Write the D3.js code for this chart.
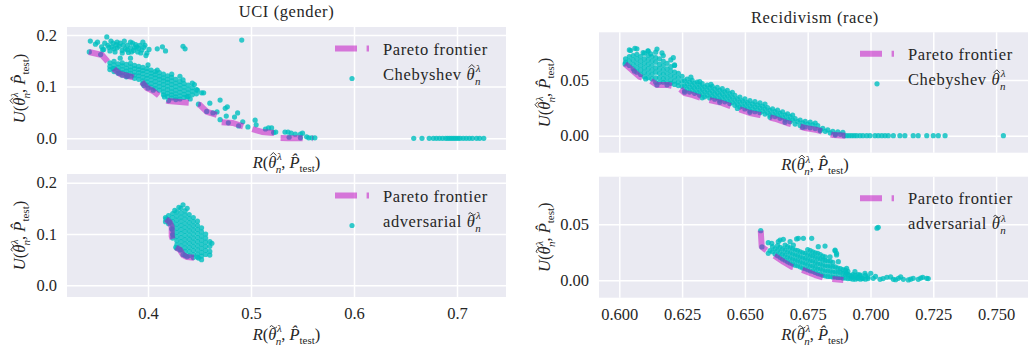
<!DOCTYPE html>
<html>
<head>
<meta charset="utf-8">
<script src="https://cdn.jsdelivr.net/npm/d3@7"></script>
<style>
  body { margin: 0; background: #fff; }
</style>
</head>
<body>
<svg id="chart" width="1028" height="348"></svg>
<script>
// ---- data ----
const titles = ["UCI (gender)", "Recidivism (race)"];
const uciXTicks = [0.4, 0.5, 0.6, 0.7];
const uciYTicks = [0.0, 0.1, 0.2];
const recidXTicks = [0.600, 0.625, 0.650, 0.675, 0.700, 0.725, 0.750];
const recidYTicks = [0.00, 0.05];

const uciChebyshevFrontier = [[0.3427,0.1669],[0.3553,0.1611],[0.3612,0.1476],[0.3680,0.1321],[0.3728,0.1244],[0.3845,0.1186],[0.3922,0.1128],[0.3990,0.0973],[0.4049,0.0915],[0.4136,0.0779],[0.4194,0.0721],[0.4311,0.0702],[0.4427,0.0683],[0.4505,0.0644],[0.4573,0.0509],[0.4670,0.0451],[0.4699,0.0315],[0.4825,0.0296],[0.4942,0.0219],[0.5107,0.0122],[0.5233,0.0103],[0.5262,0.0006],[0.5359,0.0],[0.5600,0.0]];

const uciChebyshev = [
  [0.344,0.188],[0.349,0.182],[0.351,0.186],[0.360,0.196],[0.355,0.177],[0.356,0.171],[0.361,0.180],[0.366,0.184],
  [0.370,0.175],[0.375,0.165],[0.373,0.184],[0.380,0.180],[0.383,0.175],[0.385,0.184],[0.389,0.177],[0.392,0.180],
  [0.395,0.186],[0.397,0.180],[0.399,0.165],[0.394,0.171],[0.390,0.167],[0.384,0.167],[0.380,0.171],[0.376,0.180],
  [0.368,0.167],[0.365,0.177],[0.358,0.184],[0.370,0.186],[0.383,0.186],[0.387,0.175],[0.357,0.172],[0.363,0.169],
  [0.372,0.178],[0.378,0.173],[0.381,0.166],[0.386,0.170],[0.391,0.174],[0.388,0.181],[0.393,0.165],[0.396,0.176],
  [0.364,0.188],[0.377,0.188],[0.369,0.181],[0.375,0.170],[0.401,0.172],[0.398,0.160],[0.362,0.176],[0.367,0.173],
  [0.409,0.173],[0.414,0.177],[0.417,0.169],[0.434,0.178],[0.436,0.173],[0.491,0.190],
  [0.363,0.146],[0.363,0.139],[0.363,0.133],
  [0.367,0.149],[0.367,0.142],[0.367,0.135],[0.367,0.129],
  [0.371,0.144],[0.371,0.137],[0.371,0.131],[0.371,0.126],
  [0.375,0.146],[0.375,0.140],[0.375,0.133],[0.375,0.127],[0.375,0.122],
  [0.379,0.143],[0.379,0.136],[0.379,0.130],[0.379,0.124],[0.379,0.119],
  [0.383,0.145],[0.383,0.138],[0.383,0.132],[0.383,0.126],[0.383,0.120],
  [0.387,0.141],[0.387,0.135],[0.387,0.128],[0.387,0.122],[0.387,0.116],
  [0.391,0.139],[0.391,0.133],[0.391,0.127],[0.391,0.121],[0.391,0.114],
  [0.395,0.137],[0.395,0.131],[0.395,0.125],[0.395,0.118],[0.395,0.111],[0.395,0.106],
  [0.399,0.135],[0.399,0.129],[0.399,0.122],[0.399,0.116],[0.399,0.109],[0.399,0.103],
  [0.403,0.132],[0.403,0.126],[0.403,0.120],[0.403,0.113],[0.403,0.106],[0.403,0.099],
  [0.407,0.129],[0.407,0.123],[0.407,0.117],[0.407,0.110],[0.407,0.103],[0.407,0.096],
  [0.411,0.127],[0.411,0.120],[0.411,0.114],[0.411,0.107],[0.411,0.100],[0.411,0.093],
  [0.415,0.124],[0.415,0.117],[0.415,0.111],[0.415,0.104],[0.415,0.097],[0.415,0.090],[0.415,0.084],
  [0.419,0.121],[0.419,0.114],[0.419,0.108],[0.419,0.101],[0.419,0.094],[0.419,0.087],[0.419,0.081],
  [0.423,0.118],[0.423,0.111],[0.423,0.104],[0.423,0.097],[0.423,0.090],[0.423,0.084],[0.423,0.078],
  [0.427,0.114],[0.427,0.107],[0.427,0.100],[0.427,0.093],[0.427,0.086],[0.427,0.080],[0.427,0.075],
  [0.431,0.110],[0.431,0.103],[0.431,0.096],[0.431,0.089],[0.431,0.082],[0.431,0.076],
  [0.435,0.106],[0.435,0.099],[0.435,0.092],[0.435,0.085],[0.435,0.079],
  [0.439,0.103],[0.439,0.095],[0.439,0.088],[0.439,0.081],
  [0.443,0.098],[0.443,0.091],[0.443,0.084],
  [0.447,0.094],[0.447,0.086],
  [0.373,0.155],[0.383,0.155],[0.400,0.142],[0.409,0.132],[0.423,0.124],[0.431,0.120],[0.434,0.113],
  [0.443,0.107],[0.445,0.104],[0.448,0.093],[0.438,0.080],[0.441,0.076],
  [0.343,0.167],[0.354,0.162],[0.366,0.135],[0.372,0.126],[0.380,0.120],[0.396,0.102],[0.400,0.097],[0.405,0.093],
  [0.416,0.080],[0.420,0.073],[0.449,0.066],[0.457,0.052],[0.470,0.036],[0.478,0.030],[0.497,0.022],[0.522,0.011],
  [0.537,0.002],[0.548,0.001],[0.556,0.001],
  [0.452,0.088],[0.454,0.088],[0.460,0.068],[0.470,0.074],[0.467,0.051],[0.463,0.049],[0.475,0.058],[0.477,0.061],
  [0.476,0.043],[0.484,0.041],[0.487,0.049],[0.492,0.032],[0.488,0.024],[0.504,0.035],[0.505,0.026],[0.514,0.018],
  [0.517,0.020],[0.520,0.020],[0.524,0.012],[0.533,0.012],[0.536,0.012],[0.539,0.010],[0.543,0.008],[0.548,0.008],
  [0.550,0.010],[0.554,0.003],[0.559,0.001],[0.562,0.001],
  [0.658,0],[0.666,0],[0.673,0],[0.677,0],[0.680,0],[0.683,0],[0.686,0],[0.689,0],[0.691,0],[0.693,0],[0.695,0],
  [0.697,0],[0.699,0],[0.701,0],[0.703,0],[0.706,0],[0.709,0],[0.712,0],[0.715,0],[0.719,0],[0.722,0],[0.726,0]
];

const uciAdversarialFrontier = [[0.4175,0.129],[0.421,0.123],[0.423,0.114],[0.423,0.096],[0.426,0.075],[0.431,0.069],[0.434,0.059],[0.438,0.055],[0.449,0.053],[0.453,0.049]];

const uciAdversarial = [
  [0.417,0.132],[0.417,0.124],
  [0.420,0.136],[0.420,0.128],[0.420,0.120],
  [0.424,0.140],[0.424,0.132],[0.424,0.124],[0.424,0.116],[0.424,0.108],[0.424,0.100],[0.424,0.092],
  [0.428,0.143],[0.428,0.135],[0.428,0.127],[0.428,0.119],[0.428,0.111],[0.428,0.103],[0.428,0.095],[0.428,0.087],[0.428,0.079],[0.428,0.072],
  [0.432,0.150],[0.432,0.141],[0.432,0.133],[0.432,0.125],[0.432,0.117],[0.432,0.109],[0.432,0.101],[0.432,0.093],[0.432,0.085],[0.432,0.077],[0.432,0.069],
  [0.436,0.145],[0.436,0.137],[0.436,0.129],[0.436,0.121],[0.436,0.113],[0.436,0.105],[0.436,0.097],[0.436,0.089],[0.436,0.081],[0.436,0.073],[0.436,0.066],[0.436,0.058],
  [0.440,0.138],[0.440,0.130],[0.440,0.122],[0.440,0.114],[0.440,0.106],[0.440,0.098],[0.440,0.090],[0.440,0.082],[0.440,0.074],[0.440,0.066],[0.440,0.058],
  [0.444,0.132],[0.444,0.124],[0.444,0.116],[0.444,0.108],[0.444,0.100],[0.444,0.092],[0.444,0.084],[0.444,0.076],[0.444,0.068],[0.444,0.060],[0.444,0.054],
  [0.448,0.125],[0.448,0.117],[0.448,0.109],[0.448,0.101],[0.448,0.093],[0.448,0.085],[0.448,0.077],[0.448,0.069],[0.448,0.061],[0.448,0.055],
  [0.452,0.112],[0.452,0.104],[0.452,0.096],[0.452,0.088],[0.452,0.080],[0.452,0.072],[0.452,0.064],[0.452,0.057],
  [0.456,0.100],[0.456,0.092],[0.456,0.084],[0.456,0.076],[0.456,0.068],[0.456,0.060],
  [0.460,0.085],[0.460,0.076],[0.460,0.066],[0.460,0.059],
  [0.434,0.157],[0.430,0.152],[0.438,0.150],[0.426,0.146],[0.462,0.082],
  [0.4175,0.129],[0.421,0.123],[0.423,0.110],[0.424,0.098],[0.427,0.074],[0.431,0.069],[0.434,0.060],[0.438,0.056],[0.449,0.053],[0.452,0.050]
];

const recidChebyshevFrontier = [[0.6023,0.0644],[0.6082,0.0527],[0.6120,0.0500],[0.6150,0.0455],[0.6194,0.0455],[0.6233,0.0437],[0.6260,0.0383],[0.6293,0.0365],[0.6340,0.0329],[0.6408,0.0294],[0.6452,0.0258],[0.6520,0.0204],[0.6560,0.0186],[0.6620,0.0152],[0.6668,0.0114],[0.6740,0.0069],[0.6788,0.0051],[0.6852,0.0006],[0.6900,0.0]];

const recidChebyshev = [
  [0.6025,0.066],[0.6025,0.069],
  [0.604,0.063],[0.604,0.067],[0.604,0.071],[0.604,0.077],
  [0.6055,0.060],[0.6055,0.064],[0.6055,0.068],[0.6055,0.072],
  [0.607,0.057],[0.607,0.061],[0.607,0.065],[0.607,0.069],[0.607,0.073],[0.607,0.078],
  [0.6085,0.055],[0.6085,0.059],[0.6085,0.063],[0.6085,0.067],[0.6085,0.071],
  [0.610,0.053],[0.610,0.057],[0.610,0.061],[0.610,0.065],[0.610,0.069],[0.610,0.074],
  [0.6115,0.052],[0.6115,0.056],[0.6115,0.060],[0.6115,0.064],[0.6115,0.068],[0.6115,0.072],[0.6115,0.076],
  [0.613,0.051],[0.613,0.055],[0.613,0.059],[0.613,0.063],[0.613,0.067],[0.613,0.071],
  [0.6145,0.048],[0.6145,0.052],[0.6145,0.057],[0.6145,0.061],[0.6145,0.066],[0.6145,0.070],[0.6145,0.075],
  [0.616,0.048],[0.616,0.052],[0.616,0.056],[0.616,0.060],[0.616,0.064],[0.616,0.069],
  [0.6175,0.048],[0.6175,0.051],[0.6175,0.055],[0.6175,0.059],[0.6175,0.063],[0.6175,0.067],[0.6175,0.072],
  [0.619,0.048],[0.619,0.052],[0.619,0.056],[0.619,0.060],[0.619,0.065],
  [0.6205,0.047],[0.6205,0.050],[0.6205,0.054],[0.6205,0.058],[0.6205,0.062],[0.6205,0.068],
  [0.622,0.046],[0.622,0.049],[0.622,0.053],[0.622,0.057],[0.622,0.063],
  [0.6235,0.045],[0.6235,0.048],[0.6235,0.052],[0.6235,0.056],
  [0.6045,0.0765],[0.6062,0.0784],[0.6114,0.0762],[0.6150,0.0778],[0.6170,0.0743],[0.6215,0.0700],[0.6220,0.0635],[0.6095,0.0745],[0.6125,0.0735],
  [0.625,0.0443],[0.625,0.0488],[0.625,0.0533],
  [0.626,0.0403],[0.626,0.0448],[0.626,0.0493],
  [0.627,0.0418],[0.627,0.0463],[0.627,0.0508],
  [0.628,0.0392],[0.628,0.0437],[0.628,0.0482],
  [0.629,0.0407],[0.629,0.0452],[0.629,0.0497],
  [0.630,0.0380],[0.630,0.0425],[0.630,0.0470],
  [0.631,0.0392],[0.631,0.0437],[0.631,0.0482],
  [0.632,0.0364],[0.632,0.0409],[0.632,0.0454],
  [0.633,0.0377],[0.633,0.0422],[0.633,0.0467],
  [0.634,0.0349],[0.634,0.0394],[0.634,0.0439],
  [0.635,0.0364],[0.635,0.0409],[0.635,0.0454],
  [0.636,0.0339],[0.636,0.0384],[0.636,0.0429],
  [0.637,0.0353],[0.637,0.0398],[0.637,0.0443],
  [0.638,0.0328],[0.638,0.0373],[0.638,0.0418],
  [0.639,0.0343],[0.639,0.0388],[0.639,0.0433],
  [0.640,0.0318],[0.640,0.0363],[0.640,0.0408],
  [0.641,0.0332],[0.641,0.0377],[0.641,0.0422],
  [0.642,0.0304],[0.642,0.0349],[0.642,0.0394],
  [0.643,0.0316],[0.643,0.0361],[0.643,0.0406],
  [0.644,0.0288],[0.644,0.0333],[0.644,0.0378],
  [0.645,0.0300],[0.645,0.0345],[0.645,0.0390],
  [0.646,0.0273],[0.646,0.0318],[0.646,0.0363],
  [0.647,0.0285],[0.647,0.0330],
  [0.648,0.0257],[0.648,0.0302],[0.648,0.0347],
  [0.649,0.0268],[0.649,0.0313],
  [0.650,0.0240],[0.650,0.0285],[0.650,0.0330],
  [0.651,0.0252],[0.651,0.0297],
  [0.652,0.0224],[0.652,0.0269],[0.652,0.0314],
  [0.653,0.0240],[0.653,0.0285],
  [0.654,0.0215],[0.654,0.0260],[0.654,0.0305],
  [0.655,0.0231],[0.655,0.0276],
  [0.656,0.0206],[0.656,0.0251],[0.656,0.0296],
  [0.657,0.0220],[0.657,0.0265],
  [0.658,0.0194],[0.658,0.0239],[0.658,0.0284],
  [0.659,0.0208],[0.659,0.0253],
  [0.660,0.0183],[0.660,0.0228],
  [0.661,0.0197],[0.661,0.0242],
  [0.662,0.0172],[0.662,0.0217],
  [0.663,0.0184],[0.663,0.0229],
  [0.664,0.0156],[0.664,0.0201],
  [0.665,0.0168],[0.665,0.0213],
  [0.666,0.0140],[0.666,0.0185],
  [0.667,0.0152],[0.667,0.0197],
  [0.668,0.0126],[0.668,0.0171],
  [0.669,0.0140],[0.669,0.0185],
  [0.670,0.0104],[0.670,0.0154],
  [0.671,0.0127],
  [0.672,0.0091],[0.672,0.0141],
  [0.673,0.0115],
  [0.674,0.0079],[0.674,0.0129],
  [0.675,0.0105],
  [0.676,0.0071],[0.676,0.0121],
  [0.677,0.0098],
  [0.678,0.0064],[0.678,0.0114],
  [0.679,0.0090],
  [0.680,0.0053],[0.681,0.0066],[0.682,0.0039],[0.683,0.0052],[0.684,0.0025],[0.685,0.0038],
  [0.686,0.0015],[0.687,0.0034],[0.688,0.0012],[0.689,0.0031],
  [0.6285,0.0525],[0.632,0.0485],[0.6365,0.046],
  [0.6023,0.0644],[0.606,0.058],[0.6105,0.051],[0.615,0.0455],[0.619,0.0455],[0.626,0.039],[0.633,0.034],[0.640,0.030],
  [0.647,0.0245],[0.652,0.021],[0.660,0.0165],[0.666,0.012],[0.673,0.0075],[0.680,0.0045],[0.686,0.0006],[0.6895,0.0],
  [0.6905,0],[0.6915,0],[0.6925,0],[0.6935,0],[0.6945,0],[0.6958,0],[0.6970,0],[0.6985,0],[0.6998,0],[0.7018,0],[0.7031,0],
  [0.7045,0],[0.7058,0],[0.7071,0],[0.7091,0],[0.7117,0],[0.7137,0],[0.7170,0],[0.7190,0],[0.7224,0],[0.7250,0],
  [0.7270,0],[0.7297,0],[0.7529,0]
];

const recidAdversarialFrontier = [[0.6563,0.0443],[0.6567,0.0300],[0.6580,0.0277],[0.6613,0.0226],[0.6653,0.0166],[0.6686,0.0121],[0.6713,0.0107],[0.6780,0.0047],[0.6820,0.0018],[0.6892,0.0003]];

const recidAdversarial = [
  [0.660,0.0265],
  [0.661,0.0255],[0.661,0.0300],
  [0.662,0.0235],[0.662,0.0280],
  [0.663,0.0220],[0.663,0.0265],[0.663,0.0310],
  [0.664,0.0205],[0.664,0.0250],[0.664,0.0295],
  [0.665,0.0190],[0.665,0.0235],[0.665,0.0280],
  [0.666,0.0180],[0.666,0.0225],[0.666,0.0270],[0.666,0.0315],
  [0.667,0.0165],[0.667,0.0210],[0.667,0.0255],[0.667,0.0300],
  [0.668,0.0155],[0.668,0.0200],[0.668,0.0245],[0.668,0.0290],
  [0.669,0.0145],[0.669,0.0190],[0.669,0.0235],[0.669,0.0280],
  [0.670,0.0135],[0.670,0.0180],[0.670,0.0225],[0.670,0.0270],
  [0.671,0.0130],[0.671,0.0175],[0.671,0.0220],[0.671,0.0265],
  [0.672,0.0120],[0.672,0.0165],[0.672,0.0210],[0.672,0.0255],
  [0.673,0.0110],[0.673,0.0155],[0.673,0.0200],[0.673,0.0245],
  [0.674,0.0105],[0.674,0.0150],[0.674,0.0195],[0.674,0.0240],
  [0.675,0.0095],[0.675,0.0140],[0.675,0.0185],[0.675,0.0230],[0.675,0.0275],
  [0.676,0.0085],[0.676,0.0130],[0.676,0.0175],[0.676,0.0220],[0.676,0.0265],
  [0.677,0.0080],[0.677,0.0125],[0.677,0.0170],[0.677,0.0215],[0.677,0.0255],
  [0.678,0.0070],[0.678,0.0115],[0.678,0.0160],[0.678,0.0205],[0.678,0.0245],
  [0.679,0.0060],[0.679,0.0105],[0.679,0.0150],[0.679,0.0195],[0.679,0.0240],
  [0.680,0.0055],[0.680,0.0100],[0.680,0.0145],[0.680,0.0190],[0.680,0.0230],
  [0.681,0.0045],[0.681,0.0090],[0.681,0.0135],[0.681,0.0180],[0.681,0.0215],
  [0.682,0.0040],[0.682,0.0085],[0.682,0.0130],[0.682,0.0175],[0.682,0.0210],
  [0.683,0.0035],[0.683,0.0080],[0.683,0.0125],[0.683,0.0170],
  [0.684,0.0035],[0.684,0.0080],[0.684,0.0125],[0.684,0.0170],
  [0.685,0.0030],[0.685,0.0075],[0.685,0.0120],[0.685,0.0160],
  [0.686,0.0030],[0.686,0.0075],[0.686,0.0120],
  [0.687,0.0025],[0.687,0.0070],[0.687,0.0110],
  [0.688,0.0025],[0.688,0.0070],[0.688,0.0105],
  [0.689,0.0020],[0.689,0.0060],[0.689,0.0095],
  [0.690,0.0020],[0.690,0.0055],[0.690,0.0090],
  [0.691,0.0015],[0.691,0.0050],[0.691,0.0080],
  [0.692,0.0015],[0.692,0.0045],[0.693,0.0010],[0.693,0.0050],[0.694,0.0010],[0.694,0.0045],
  [0.695,0.0015],[0.695,0.0050],[0.696,0.0010],[0.696,0.0040],[0.697,0.0015],[0.698,0.0010],[0.698,0.0045],[0.699,0.0015],
  [0.664,0.036],[0.6653,0.0366],[0.668,0.0345],[0.6713,0.0375],[0.6733,0.0375],[0.6766,0.0375],[0.6607,0.033],
  [0.6693,0.0315],[0.6792,0.030],[0.6819,0.0306],[0.6859,0.0264],[0.6865,0.024],[0.6839,0.021],[0.6872,0.0166],
  [0.6633,0.0345],[0.6706,0.0369],[0.6859,0.027],[0.6865,0.0226],[0.6905,0.0107],[0.7031,0.0473],
  [0.6563,0.0443],[0.6568,0.0298],[0.6593,0.0240],[0.6593,0.0336],
  [0.6905,0.0063],[0.6938,0.0077],[0.6958,0.0048],[0.6978,0.0063],[0.7001,0.0063],[0.7011,0.0018],[0.7038,0.0009],
  [0.7065,0.0027],[0.7091,0.0009],[0.7111,0.0018],[0.7131,0.0009],[0.7151,0.0003],[0.7170,0.0018],[0.7190,0.0009],
  [0.7208,0.0027],[0.7224,0.0018],[0.7230,0.0015],
  [0.6925,0.0030],[0.6945,0.0025],[0.6965,0.0020],[0.6990,0.0030],[0.7020,0.0035],[0.7050,0.0015],[0.7080,0.0030],
  [0.7100,0.0005],[0.7120,0.0030],[0.7160,0.0010],[0.7200,0.0020]
];

// ---- layout ----
const FONT = "Liberation Serif";
const FS = 16.5, FS_SMALL = 11, LS = 0.6;
const CYAN = "#00bfbf", MAGENTA = "#bf00bf", INK = "#262626";

const panels = [
  { pts: uciChebyshev, front: uciChebyshevFrontier, box: [67, 27, 506, 150],
    xd: [0.32136, 0.74757], yd: [-0.02263, 0.21528], xt: uciXTicks, yt: uciYTicks,
    xf: ".1f", yf: ".1f", showX: false, acc: "hat", method: "Chebyshev ",
    title: titles[0], titleY: 16.7, ylabX: 25, xlabY: 167.5 },
  { pts: uciAdversarial, front: uciAdversarialFrontier, box: [67, 174, 506, 297],
    xd: [0.32136, 0.74757], yd: [-0.0228, 0.21696], xt: uciXTicks, yt: uciYTicks,
    xf: ".1f", yf: ".1f", showX: true, acc: "tilde", method: "adversarial ",
    ylabX: 25, xlabY: 339.5 },
  { pts: recidChebyshev, front: recidChebyshevFrontier, box: [599, 32.3, 1031, 152.7],
    xd: [0.59192, 0.7639], yd: [-0.01526, 0.09282], xt: recidXTicks, yt: recidYTicks,
    xf: ".3f", yf: ".2f", showX: false, acc: "hat", method: "Chebyshev ",
    title: titles[1], titleY: 22.7, ylabX: 550, xlabY: 170 },
  { pts: recidAdversarial, front: recidAdversarialFrontier, box: [599, 176.7, 1031, 297.7],
    xd: [0.59192, 0.7639], yd: [-0.01554, 0.0925], xt: recidXTicks, yt: recidYTicks,
    xf: ".3f", yf: ".2f", showX: true, acc: "tilde", method: "adversarial ",
    ylabX: 550, xlabY: 339.5 }
];

const svg = d3.select("#chart");

function addText(parent, x, y, size) {
  return parent.append("text")
    .attr("x", x).attr("y", y)
    .attr("font-family", FONT)
    .attr("font-size", size)
    .attr("fill", INK)
    .style("white-space", "pre");
}

// write a small math expression as tspans
function addMath(text, parts) {
  parts.forEach(p => {
    let ts = text.append("tspan").text(p.t);
    if (p.it) ts.attr("font-style", "italic");
    if (p.small) ts.attr("font-size", FS_SMALL);
    if (p.dx) ts.attr("dx", p.dx);
    if (p.dy) ts.attr("dy", p.dy);
  });
}

// theta, superscript lambda, subscript n (accent drawn afterwards)
const thetaParts = [
  { t: "\u03b8", it: true },
  { t: "\u03bb", it: true, small: true, dx: 0.5, dy: -7.5 },
  { t: "n", it: true, small: true, dx: -6, dy: 12.5 }
];

const riskParts = lead => [{ t: lead, it: true }, { t: "(" }]
  .concat(thetaParts)
  .concat([{ t: ", ", dy: -5 }, { t: "P\u0302", it: true },
           { t: "test", small: true, dy: 4 }, { t: ")", dy: -4 }]);

// hat or tilde over the theta at character index i
function accent(parent, text, i, kind) {
  let ext = text.node().getExtentOfChar(i);
  let by = +text.attr("y");
  let cx = ext.x + ext.width / 2 + 1;
  let d = kind === "hat"
    ? `M${cx - 3},${by - 12}L${cx},${by - 15}L${cx + 3},${by - 12}`
    : `M${cx - 3.6},${by - 12.6}q1.8,-2.6 3.6,0t3.6,0`;
  parent.append("path").attr("d", d)
    .attr("fill", "none").attr("stroke", INK).attr("stroke-width", 0.9);
}

panels.forEach(p => {
  let [x0, y0, x1, y1] = p.box;
  let xScale = d3.scaleLinear().domain(p.xd).range([x0, x1]);
  let yScale = d3.scaleLinear().domain(p.yd).range([y1, y0]);

  svg.append("rect")
    .attr("x", x0).attr("y", y0)
    .attr("width", x1 - x0).attr("height", y1 - y0)
    .attr("fill", "#eaeaf2");

  // grid + tick labels
  let xAxis = d3.axisBottom(xScale)
    .tickValues(p.xt)
    .tickSize(-(y1 - y0))
    .tickPadding(10.3)
    .tickFormat(p.showX ? d3.format(p.xf) : "");

  let yAxis = d3.axisLeft(yScale)
    .tickValues(p.yt)
    .tickSize(-(x1 - x0))
    .tickPadding(10)
    .tickFormat(d3.format(p.yf));

  let gx = svg.append("g").attr("transform", `translate(0, ${y1})`).call(xAxis);
  let gy = svg.append("g").attr("transform", `translate(${x0}, 0)`).call(yAxis);
  [gx, gy].forEach(g => {
    g.attr("font-family", FONT).attr("font-size", FS);
    g.select(".domain").remove();
    g.selectAll("line").attr("stroke", "#fff").attr("stroke-width", 1.5);
    g.selectAll("text").attr("fill", INK);
  });

  // clip to the axes box
  let clipId = "clip" + Math.round(x0) + "_" + Math.round(y0);
  svg.append("clipPath").attr("id", clipId)
    .append("rect").attr("x", x0).attr("y", y0).attr("width", x1 - x0).attr("height", y1 - y0);
  let plot = svg.append("g").attr("clip-path", `url(#${clipId})`);

  plot.append("g")
    .selectAll("circle")
    .data(p.pts)
    .enter()
    .append("circle")
    .attr("cx", d => xScale(d[0]))
    .attr("cy", d => yScale(d[1]))
    .attr("r", 2.6)
    .attr("fill", CYAN)
    .attr("fill-opacity", 0.8);

  let line = d3.line().x(d => xScale(d[0])).y(d => yScale(d[1]));
  plot.append("path")
    .datum(p.front)
    .attr("d", line)
    .attr("fill", "none")
    .attr("stroke", MAGENTA)
    .attr("stroke-opacity", 0.5)
    .attr("stroke-width", 6)
    .attr("stroke-dasharray", "22,9.6")
    .attr("stroke-linejoin", "round");

  // legend (no frame)
  let lx = x1 - 171, ly = y0;
  svg.append("line")
    .attr("x1", lx).attr("x2", lx + 34)
    .attr("y1", ly + 21.5).attr("y2", ly + 21.5)
    .attr("stroke", MAGENTA).attr("stroke-opacity", 0.5)
    .attr("stroke-width", 6).attr("stroke-dasharray", "22,9.6");
  addText(svg, lx + 48, ly + 27.5, FS)
    .attr("letter-spacing", LS)
    .text("Pareto frontier");
  svg.append("circle")
    .attr("cx", lx + 17).attr("cy", ly + 51.5)
    .attr("r", 2.6).attr("fill", CYAN).attr("fill-opacity", 0.8);
  let lt = addText(svg, lx + 48, ly + 52.5, FS).attr("letter-spacing", LS);
  addMath(lt, [{ t: p.method }].concat(thetaParts));
  accent(svg, lt, p.method.length, p.acc);

  // title
  if (p.title) {
    addText(svg, (x0 + x1) / 2, p.titleY, FS)
      .attr("text-anchor", "middle")
      .attr("letter-spacing", LS)
      .text(p.title);
  }

  // axis labels
  let xl = addText(svg, (x0 + x1) / 2, p.xlabY, FS)
    .attr("text-anchor", "middle");
  addMath(xl, riskParts("R"));
  accent(svg, xl, 2, p.acc);

  let yg = svg.append("g")
    .attr("transform", `translate(${p.ylabX}, ${(y0 + y1) / 2}) rotate(-90)`);
  let yl = addText(yg, 0, 0, FS).attr("text-anchor", "middle");
  addMath(yl, riskParts("U"));
  accent(yg, yl, 2, p.acc);
});
</script>
</body>
</html>
